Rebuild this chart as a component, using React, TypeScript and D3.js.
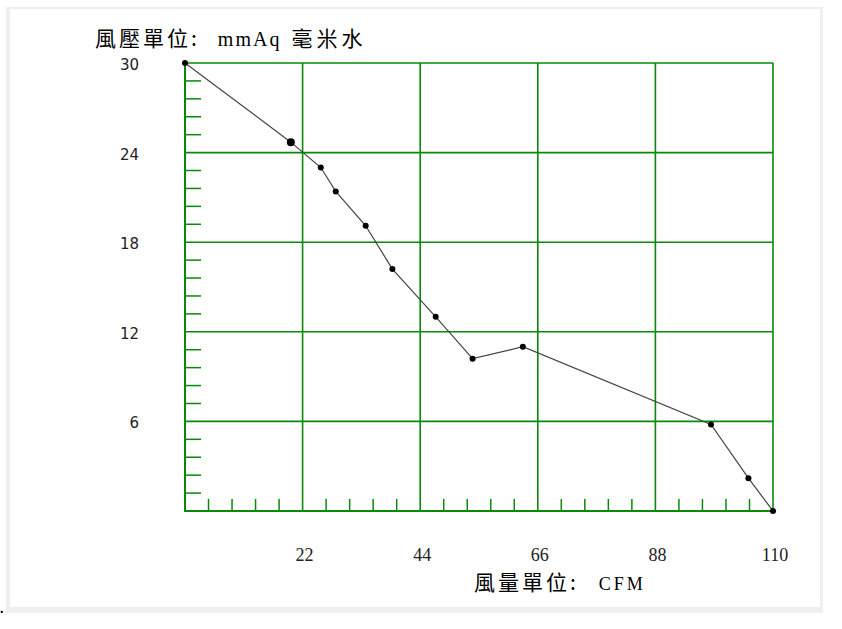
import React from 'react';
import * as d3 from 'd3';

// fan curve: flow (CFM) vs static pressure (mmAq)
const flow = [0, 19.8, 25.4, 28.2, 33.8, 38.8, 46.9, 53.8, 63.2, 98.4, 105.4, 110];
const pressure = [30, 24.7, 23.0, 21.4, 19.1, 16.2, 13.0, 10.2, 11.0, 5.8, 2.2, 0];
const xTicks = [22, 44, 66, 88, 110];
const yTicks = [6, 12, 18, 24, 30];
const xTitleCjk = '風量單位:';
const xTitleUnit = 'CFM';
const yTitleCjk = '風壓單位:';
const yTitleUnit = 'mmAq';
const yTitleCjk2 = '毫米水';

const W = 842;
const H = 629;
const GREEN = '#088a08';

const App: React.FC = () => {
  const x = d3.scaleLinear().domain([0, 110]).range([185, 773]);
  const y = d3.scaleLinear().domain([0, 30]).range([511, 63]);

  const xMinor = d3.range(0, 110, 4.4).filter((v) => Math.abs(v / 22 - Math.round(v / 22)) > 0.01);
  const yMinor = d3.range(0, 30, 1.2).filter((v) => Math.abs(v / 6 - Math.round(v / 6)) > 0.01);

  const pts = flow.map((f, i) => [f, pressure[i]] as [number, number]);
  const line = d3
    .line<[number, number]>()
    .x((d) => x(d[0]))
    .y((d) => y(d[1]));

  const cjk = '"Noto Sans CJK TC", sans-serif';
  const serif = '"Liberation Serif", "DejaVu Serif", serif';

  return (
    <svg
      width={W}
      height={H}
      style={{ position: 'absolute', left: 0, top: 0, background: '#fff' }}
    >
      {/* frame */}
      <rect x={6} y={7} width={817} height={606} fill="#efefef" />
      <rect x={10} y={9} width={810} height={598} fill="#fff" />
      <text x={0} y={613} fontSize={14} fontWeight="bold" fontFamily={serif} fill="#000">.</text>

      {/* grid */}
      {yTicks.map((t) => (
        <line key={'gy' + t} x1={x(0)} x2={x(110)} y1={y(t)} y2={y(t)} stroke={GREEN} strokeWidth={1.6} />
      ))}
      {xTicks.map((t) => (
        <line key={'gx' + t} x1={x(t)} x2={x(t)} y1={y(0)} y2={y(30)} stroke={GREEN} strokeWidth={1.6} />
      ))}
      {/* axes */}
      <line x1={x(0)} x2={x(0)} y1={y(0) + 1} y2={y(30) - 1} stroke={GREEN} strokeWidth={2} />
      <line x1={x(0) - 1} x2={x(110) + 1} y1={y(0)} y2={y(0)} stroke={GREEN} strokeWidth={2} />

      {/* minor ticks */}
      {yMinor.map((t) => (
        <line key={'my' + t} x1={x(0)} x2={x(0) + 16} y1={y(t)} y2={y(t)} stroke={GREEN} strokeWidth={1.5} />
      ))}
      {xMinor.map((t) => (
        <line key={'mx' + t} x1={x(t)} x2={x(t)} y1={y(0)} y2={y(0) - 12} stroke={GREEN} strokeWidth={1.5} />
      ))}

      {/* tick labels */}
      {yTicks.map((t) => (
        <text
          key={'ly' + t}
          x={139}
          y={y(t) + 7}
          textAnchor="end"
          fontSize={15}
          fontFamily='"DejaVu Sans", sans-serif'
          fill="#222"
        >
          {t}
        </text>
      ))}
      {xTicks.map((t) => (
        <text
          key={'lx' + t}
          x={x(t) + 2}
          y={561}
          textAnchor="middle"
          fontSize={18}
          fontFamily={serif}
          fill="#222"
        >
          {t}
        </text>
      ))}

      {/* curve */}
      <path d={line(pts) || ''} fill="none" stroke="#444" strokeWidth={1.2} />
      {pts.map((d, i) => (
        <circle key={'p' + i} cx={x(d[0])} cy={y(d[1])} r={i === 1 ? 4 : 3} fill="#000" />
      ))}

      {/* titles */}
      <text x={95} y={46} fontSize={21} fill="#000">
        <tspan fontFamily={cjk} letterSpacing={3}>{yTitleCjk}</tspan>
        <tspan fontFamily={serif} dx={18} fontSize={20} letterSpacing={2}>{yTitleUnit}</tspan>
        <tspan fontFamily={cjk} dx={10} letterSpacing={4}>{yTitleCjk2}</tspan>
      </text>
      <text x={474} y={590} fontSize={21} fill="#000">
        <tspan fontFamily={cjk} letterSpacing={3}>{xTitleCjk}</tspan>
        <tspan fontFamily={serif} dx={20} fontSize={18} letterSpacing={3}>{xTitleUnit}</tspan>
      </text>
    </svg>
  );
};

export default App;
